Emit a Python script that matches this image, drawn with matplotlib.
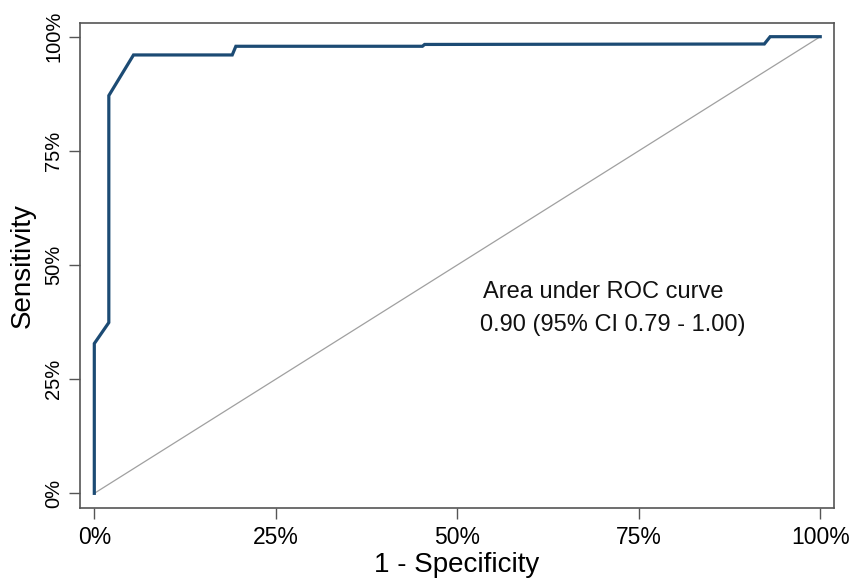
import matplotlib
matplotlib.use("Agg")
import matplotlib.pyplot as plt
from matplotlib.ticker import FuncFormatter

# ROC curve points (1 - specificity, sensitivity), in %
fpr = [0.0, 0.0, 2.0, 2.0, 5.4, 19.0, 19.5, 45.2, 45.5, 92.3, 93.1, 100.0]
tpr = [0.0, 32.8, 37.4, 87.1, 96.0, 96.0, 97.9, 97.9, 98.3, 98.4, 100.0, 100.0]
ticks = [0, 25, 50, 75, 100]
auc_title = "Area under ROC curve"
auc_text = "0.90 (95% CI 0.79 - 1.00)"

plt.rcParams['font.family'] = ['Liberation Sans', 'DejaVu Sans']

fig = plt.figure(figsize=(8.52, 5.79), dpi=100)
ax = fig.add_axes([0.0939, 0.1231, 0.885, 0.8372])

ax.plot([0, 100], [0, 100], color='#a0a0a0', lw=0.9, zorder=1)
ax.plot(fpr, tpr, color='#1c4b74', lw=2.3, solid_joinstyle='miter', zorder=2)

ax.set_xlim(-1.97, 101.9)
ax.set_ylim(-3.15, 103.0)
ax.set_xticks(ticks)
ax.set_yticks(ticks)
fmt = FuncFormatter(lambda v, p: f"{int(v)}%")
ax.xaxis.set_major_formatter(fmt)
ax.yaxis.set_major_formatter(fmt)
ax.tick_params(axis='both', length=8, width=1, color='#555555', pad=4)
ax.tick_params(axis='x', labelsize=16.5, pad=5)
ax.tick_params(axis='y', labelsize=14.5, pad=4)
for lab in ax.get_yticklabels():
    lab.set_rotation(90)
    lab.set_va('center')
for s in ax.spines.values():
    s.set_color('#555555')
    s.set_linewidth(1.2)

ax.set_xlabel("1 - Specificity", fontsize=20, labelpad=2)
ax.set_ylabel("Sensitivity", fontsize=20, labelpad=6)

ax.text(53.5, 44.1, auc_title, fontsize=17, va='center', ha='left', color='#111111')
ax.text(53.1, 36.9, auc_text, fontsize=17, va='center', ha='left', color='#111111')

fig.savefig("out.png", dpi=100, facecolor='white')
